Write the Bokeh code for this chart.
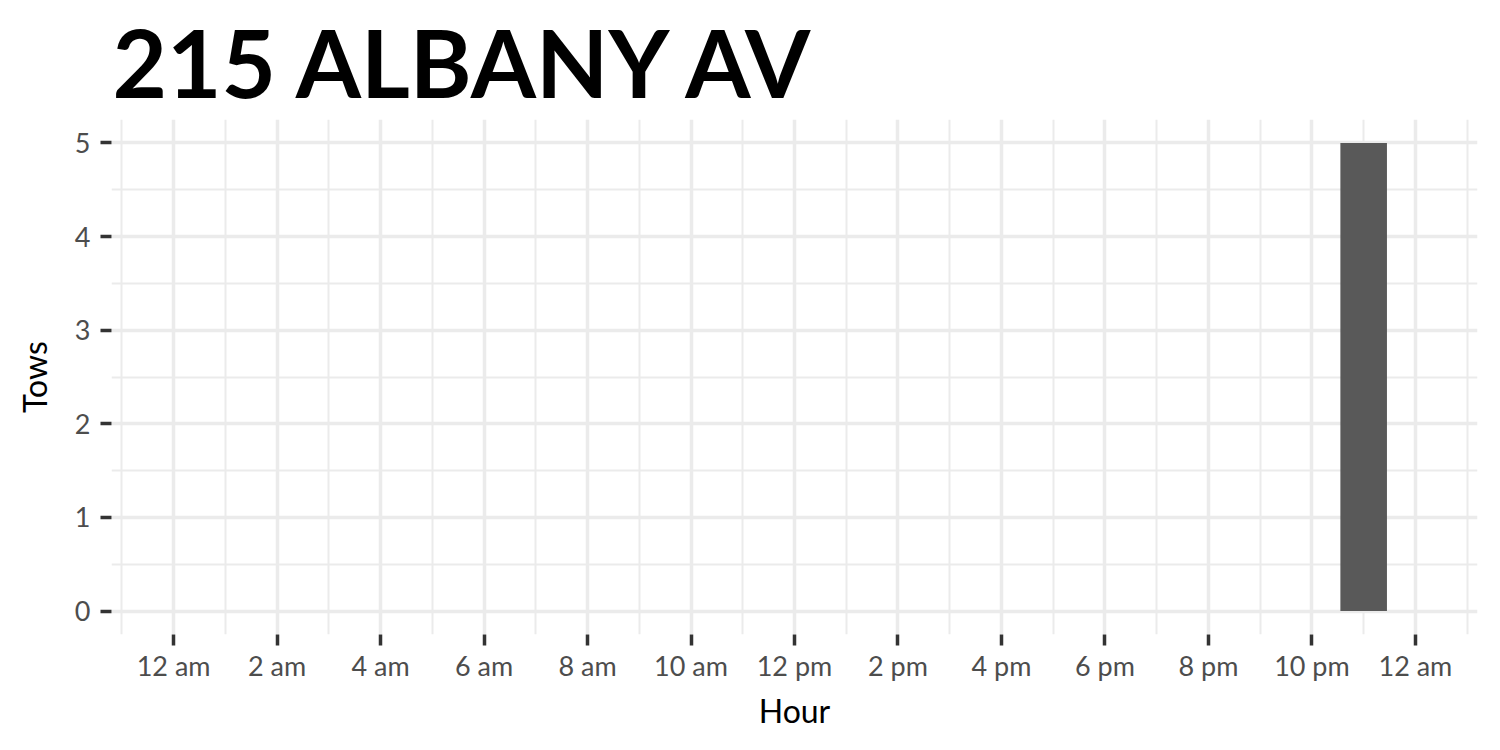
from bokeh.plotting import figure
from bokeh.models import FixedTicker, Range1d
from bokeh.embed import file_html
from bokeh.resources import INLINE

title_text = "215 ALBANY AV"
hours = list(range(24))
tows = [0] * 23 + [5]
x_tick_values = list(range(0, 25, 2))
x_tick_labels = ["12 am", "2 am", "4 am", "6 am", "8 am", "10 am", "12 pm",
                 "2 pm", "4 pm", "6 pm", "8 pm", "10 pm", "12 am"]
y_tick_values = [0, 1, 2, 3, 4, 5]

p = figure(width=1500, height=750, output_backend="svg", toolbar_location=None,
           x_range=Range1d(-1.2, 25.2), y_range=Range1d(-0.25, 5.25),
           min_border_left=111, min_border_right=23, min_border_bottom=116,
           min_border_top=118)
p.title.text = title_text
p.title.text_font = "Lato"
p.title.text_font_style = "bold"
p.title.text_font_size = "94px"
p.title.text_color = "black"
p.title.offset = 1
p.title.standoff = 4

p.vbar(x=hours, top=tows, width=0.9, bottom=0, fill_color="#595959", line_color=None)

p.xaxis.ticker = FixedTicker(ticks=x_tick_values, minor_ticks=list(range(-1, 26, 2)))
p.xaxis.major_label_overrides = {v: l for v, l in zip(x_tick_values, x_tick_labels)}
p.yaxis.ticker = FixedTicker(ticks=y_tick_values, minor_ticks=[0.5, 1.5, 2.5, 3.5, 4.5])

for ax in (p.xaxis, p.yaxis):
    ax.axis_line_color = None
    ax.major_tick_line_color = "#333333"
    ax.major_tick_line_width = 3.5
    ax.major_tick_in = 0
    ax.major_tick_out = 11
    ax.minor_tick_line_color = None
    ax.major_label_text_font = "Lato"
    ax.major_label_text_font_size = "27px"
    ax.major_label_text_color = "#4D4D4D"
    ax.axis_label_text_font = "Lato"
    ax.axis_label_text_font_size = "32px"
    ax.axis_label_text_font_style = "normal"
    ax.axis_label_text_color = "black"

p.xaxis.axis_label = "Hour"
p.yaxis.axis_label = "Tows"
p.xaxis.major_label_standoff = 3
p.yaxis.major_label_standoff = 10
p.xaxis.axis_label_standoff = 6
p.yaxis.axis_label_standoff = 18

p.xgrid.grid_line_color = "#EBEBEB"
p.ygrid.grid_line_color = "#EBEBEB"
p.xgrid.grid_line_width = 3.5
p.ygrid.grid_line_width = 3.5
p.xgrid.minor_grid_line_color = "#EBEBEB"
p.ygrid.minor_grid_line_color = "#EBEBEB"
p.xgrid.minor_grid_line_width = 2
p.ygrid.minor_grid_line_width = 2
p.outline_line_color = None
p.background_fill_color = "white"
p.border_fill_color = "white"

open("out.html", "w").write(file_html(p, INLINE))
